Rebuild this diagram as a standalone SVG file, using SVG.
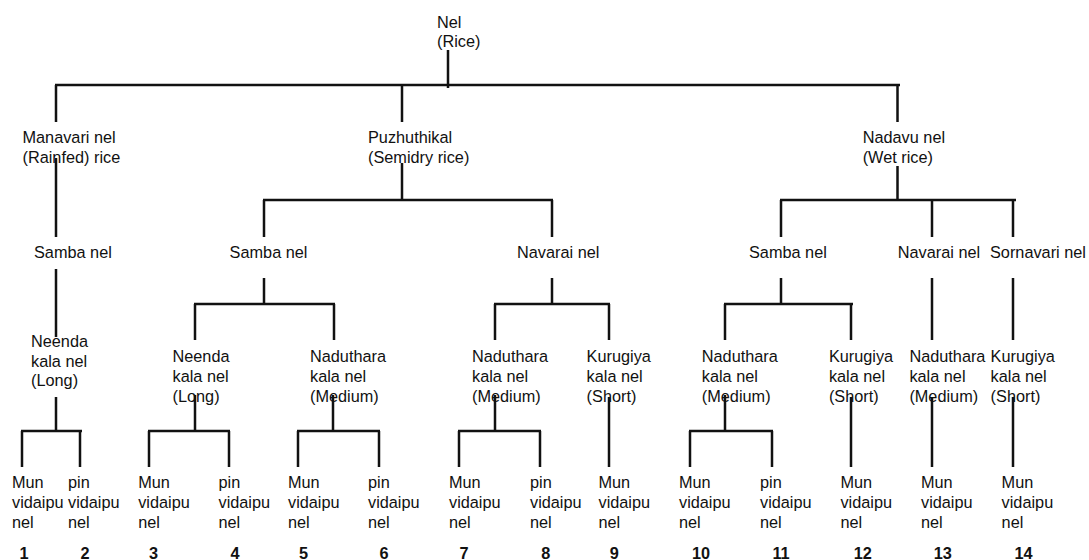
<svg xmlns="http://www.w3.org/2000/svg" width="1089" height="560" viewBox="0 0 1089 560">
  <style>
    .t { font-family: "Liberation Sans", Arial, sans-serif; font-size: 16.3px; fill: #111; }
    .n { font-family: "Liberation Sans", Arial, sans-serif; font-size: 16.3px; font-weight: bold; fill: #111; text-anchor: middle; }
    .c { fill: none; stroke: #111; stroke-width: 2.5; }
  </style>
  <rect width="1089" height="560" fill="#fff"/>

  <!-- tree connectors -->
  <g id="connectors" class="c">
    <path d="M448 50V88M55 85H900M56 85V122M402 85V122M897.5 85V122"/>
    <path d="M56 158V237M56 269V337"/>
    <path d="M402 163V200M263 200H553M264 200V237M552 200V237"/>
    <path d="M897.5 166V200M780 200H1016M781 200V237M932 200V237M1013 200V237"/>
    <path d="M264 278V305M194 304H335M195 304V340M334 304V340"/>
    <path d="M552 278V305M494 304H610M495 304V340M609 304V340"/>
    <path d="M781 278V305M724 304H853M725 304V340M851 304V340"/>
    <path d="M932 278V340M1013 278V340"/>
    <path d="M56 397V432M21 431H82M22 431V467M80 431V467"/>
    <path d="M195 395V432M148 431H230M149 431V467M229 431V467"/>
    <path d="M333 395V432M297 431H380M298 431V467M379 431V467"/>
    <path d="M495 395V432M458 431H541M459 431V467M540 431V467"/>
    <path d="M609 397V467"/>
    <path d="M725 395V432M689 431H773M690 431V467M772 431V467"/>
    <path d="M851 397V467M932 397V467M1013 397V467"/>
  </g>

  <!-- level 0 -->
  <g id="root"><text class="t" x="437" y="28">Nel<tspan x="437" dy="19">(Rice)</tspan></text></g>

  <!-- level 1 -->
  <g id="manavari"><text class="t" x="22.5" y="143">Manavari nel<tspan x="22.5" dy="19.5">(Rainfed) rice</tspan></text></g>
  <g id="puzhuthikal"><text class="t" x="368" y="143">Puzhuthikal<tspan x="368" dy="19.5">(Semidry rice)</tspan></text></g>
  <g id="nadavu"><text class="t" x="862.7" y="143">Nadavu nel<tspan x="862.7" dy="19.5">(Wet rice)</tspan></text></g>

  <!-- level 2 -->
  <g id="samba-1"><text class="t" x="34" y="258">Samba nel</text></g>
  <g id="samba-2"><text class="t" x="229.6" y="258">Samba nel</text></g>
  <g id="navarai-1"><text class="t" x="517" y="258">Navarai nel</text></g>
  <g id="samba-3"><text class="t" x="749" y="258">Samba nel</text></g>
  <g id="navarai-2"><text class="t" x="897.8" y="258">Navarai nel</text></g>
  <g id="sornavari"><text class="t" x="990" y="258">Sornavari nel</text></g>

  <!-- level 3 -->
  <g id="neenda-1"><text class="t" x="31" y="347">Neenda<tspan x="31" dy="19.5">kala nel</tspan><tspan x="31" dy="19.5">(Long)</tspan></text></g>
  <g id="neenda-2"><text class="t" x="172.5" y="362">Neenda<tspan x="172.5" dy="19.8">kala nel</tspan><tspan x="172.5" dy="19.8">(Long)</tspan></text></g>
  <g id="naduthara-1"><text class="t" x="310" y="362">Naduthara<tspan x="310" dy="19.8">kala nel</tspan><tspan x="310" dy="19.8">(Medium)</tspan></text></g>
  <g id="naduthara-2"><text class="t" x="472" y="362">Naduthara<tspan x="472" dy="19.8">kala nel</tspan><tspan x="472" dy="19.8">(Medium)</tspan></text></g>
  <g id="kurugiya-1"><text class="t" x="586.6" y="362">Kurugiya<tspan x="586.6" dy="19.8">kala nel</tspan><tspan x="586.6" dy="19.8">(Short)</tspan></text></g>
  <g id="naduthara-3"><text class="t" x="701.8" y="362">Naduthara<tspan x="701.8" dy="19.8">kala nel</tspan><tspan x="701.8" dy="19.8">(Medium)</tspan></text></g>
  <g id="kurugiya-2"><text class="t" x="828.9" y="362">Kurugiya<tspan x="828.9" dy="19.8">kala nel</tspan><tspan x="828.9" dy="19.8">(Short)</tspan></text></g>
  <g id="naduthara-4"><text class="t" x="909.4" y="362">Naduthara<tspan x="909.4" dy="19.8">kala nel</tspan><tspan x="909.4" dy="19.8">(Medium)</tspan></text></g>
  <g id="kurugiya-3"><text class="t" x="990.6" y="362">Kurugiya<tspan x="990.6" dy="19.8">kala nel</tspan><tspan x="990.6" dy="19.8">(Short)</tspan></text></g>

  <!-- level 4: leaves with numbers -->
  <g id="leaf-1"><text class="t" x="12" y="488">Mun<tspan x="12" dy="20">vidaipu</tspan><tspan x="12" dy="20">nel</tspan></text><text class="n" x="24" y="559">1</text></g>
  <g id="leaf-2"><text class="t" x="68" y="488">pin<tspan x="68" dy="20">vidaipu</tspan><tspan x="68" dy="20">nel</tspan></text><text class="n" x="85" y="559">2</text></g>
  <g id="leaf-3"><text class="t" x="138.2" y="488">Mun<tspan x="138.2" dy="20">vidaipu</tspan><tspan x="138.2" dy="20">nel</tspan></text><text class="n" x="153.5" y="559">3</text></g>
  <g id="leaf-4"><text class="t" x="218.5" y="488">pin<tspan x="218.5" dy="20">vidaipu</tspan><tspan x="218.5" dy="20">nel</tspan></text><text class="n" x="235" y="559">4</text></g>
  <g id="leaf-5"><text class="t" x="288" y="488">Mun<tspan x="288" dy="20">vidaipu</tspan><tspan x="288" dy="20">nel</tspan></text><text class="n" x="303.6" y="559">5</text></g>
  <g id="leaf-6"><text class="t" x="368" y="488">pin<tspan x="368" dy="20">vidaipu</tspan><tspan x="368" dy="20">nel</tspan></text><text class="n" x="384" y="559">6</text></g>
  <g id="leaf-7"><text class="t" x="449" y="488">Mun<tspan x="449" dy="20">vidaipu</tspan><tspan x="449" dy="20">nel</tspan></text><text class="n" x="464" y="559">7</text></g>
  <g id="leaf-8"><text class="t" x="530" y="488">pin<tspan x="530" dy="20">vidaipu</tspan><tspan x="530" dy="20">nel</tspan></text><text class="n" x="545.7" y="559">8</text></g>
  <g id="leaf-9"><text class="t" x="598.5" y="488">Mun<tspan x="598.5" dy="20">vidaipu</tspan><tspan x="598.5" dy="20">nel</tspan></text><text class="n" x="614.2" y="559">9</text></g>
  <g id="leaf-10"><text class="t" x="679" y="488">Mun<tspan x="679" dy="20">vidaipu</tspan><tspan x="679" dy="20">nel</tspan></text><text class="n" x="701" y="559">10</text></g>
  <g id="leaf-11"><text class="t" x="760" y="488">pin<tspan x="760" dy="20">vidaipu</tspan><tspan x="760" dy="20">nel</tspan></text><text class="n" x="781" y="559">11</text></g>
  <g id="leaf-12"><text class="t" x="840.4" y="488">Mun<tspan x="840.4" dy="20">vidaipu</tspan><tspan x="840.4" dy="20">nel</tspan></text><text class="n" x="862.8" y="559">12</text></g>
  <g id="leaf-13"><text class="t" x="921" y="488">Mun<tspan x="921" dy="20">vidaipu</tspan><tspan x="921" dy="20">nel</tspan></text><text class="n" x="942.7" y="559">13</text></g>
  <g id="leaf-14"><text class="t" x="1001.6" y="488">Mun<tspan x="1001.6" dy="20">vidaipu</tspan><tspan x="1001.6" dy="20">nel</tspan></text><text class="n" x="1023.5" y="559">14</text></g>
</svg>
